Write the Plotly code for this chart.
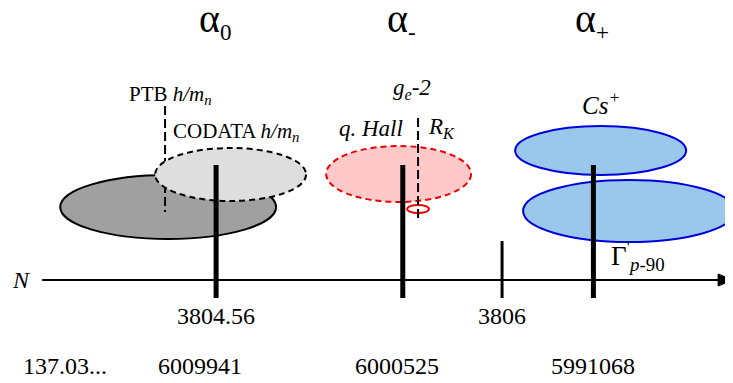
import plotly.graph_objects as go

# ---- data ----
alpha_subs = ["0", "-", "+"]
alpha_N = [3804.56, 3805.50, 3806.46]          # N value of each alpha group
tick_N = [3804.56, 3806.0]
tick_labels = ["3804.56", "3806"]
alpha_inv_labels = ["137.03...", "6009941", "6000525", "5991068"]
alpha_inv_N = [3803.80, 3804.48, 3805.47, 3806.46]
N_range = [3803.512, 3807.163]
H_range = [383, 8]

SERIF = "Liberation Serif"
fig = go.Figure()
fig.add_trace(go.Scatter(x=[N_range[0]], y=[100], mode="markers",
                         marker=dict(opacity=0), hoverinfo="skip", showlegend=False))

shapes = []
def ell(x0, x1, y0, y1, fill, line, dash="solid", w=2):
    shapes.append(dict(type="circle", xref="x", yref="y", x0=x0, x1=x1, y0=y0, y1=y1,
                       fillcolor=fill, line=dict(color=line, width=w, dash=dash), layer="above"))
def vline(x, y0, y1, w, dash="solid", color="black"):
    shapes.append(dict(type="line", xref="x", yref="y", x0=x, x1=x, y0=y0, y1=y1,
                       line=dict(color=color, width=w, dash=dash), layer="above"))

# axis
shapes.append(dict(type="line", xref="x", yref="y", x0=3803.684, x1=3807.09, y0=280, y1=280,
                   line=dict(color="black", width=2), layer="above"))
shapes.append(dict(type="path", xref="x", yref="y",
                   path="M 3807.088 274 L 3807.163 280 L 3807.088 286 Z",
                   fillcolor="black", line=dict(color="black", width=1), layer="above"))

# alpha_0 group
ell(3803.775, 3804.862, 175, 239, "#a0a0a0", "black")
vline(3804.303, 106, 212, 2, dash="9px,4px")
ell(3804.253, 3805.013, 148, 201, "#dedede", "black", dash="6px,4px")
# alpha_- group
ell(3805.114, 3805.844, 146, 202, "#ffc9c9", "#ee0000", dash="6px,4px")
ell(3805.522, 3805.632, 205, 213, "rgba(0,0,0,0)", "#ee0000")
vline(3805.577, 118, 222, 2, dash="9px,4px")
# alpha_+ group
ell(3806.066, 3806.927, 126, 175, "#99c8ec", "#0000dd")
ell(3806.106, 3807.173, 180, 242, "#99c8ec", "#0000dd")

# bars
for n in alpha_N:
    vline(n, 165, 298, 5)
vline(tick_N[1], 241, 298, 3)

fig.update_layout(shapes=shapes)

ann = []
def txt(x, y, s, size, italic=False, xanchor="center", xshift=0, yanchor="middle"):
    if italic:
        s = "<i>" + s + "</i>"
    ann.append(dict(x=x, y=y, xref="x", yref="y", text=s, showarrow=False,
                    xanchor=xanchor, yanchor=yanchor, xshift=xshift,
                    font=dict(family=SERIF, size=size, color="black")))

for n, sub in zip(alpha_N, alpha_subs):
    lab = "α<sub><span style='font-size:23px'>" + sub + "</span></sub>"
    txt(n, 20, lab, 40, xshift=-1)
for n, lab in zip(tick_N, tick_labels):
    txt(n, 316, lab, 24)
for n, lab in zip(alpha_inv_N, alpha_inv_labels):
    txt(n, 366, lab, 24)

txt(N_range[0], 280, "N", 24, italic=True, xanchor="left", xshift=2)
txt(3804.110, 95, "PTB <i>h/m<sub>n</sub></i>", 21, xanchor="left")
txt(3804.335, 132, "CODATA <i>h/m<sub>n</sub></i>", 21, xanchor="left")
txt(3805.577, 89, "g<sub>e</sub>-2", 23, italic=True, xshift=-6)
txt(3805.550, 128, "q. Hall", 23, italic=True, xanchor="right", xshift=-8)
txt(3805.577, 128, "R<sub>K</sub>", 23, italic=True, xanchor="left", xshift=8)
txt(3806.46, 103, "Cs<sup>+</sup>", 25, italic=True, xshift=8)
txt(3806.55, 256, "Γ<sup>'</sup><sub><i>p</i>-90</sub>", 27, xanchor="left", xshift=-2)

fig.update_layout(
    annotations=ann,
    width=725, height=375,
    margin=dict(l=0, r=0, t=0, b=0),
    paper_bgcolor="white", plot_bgcolor="white",
    xaxis=dict(range=N_range, visible=False, fixedrange=True),
    yaxis=dict(range=H_range, visible=False, fixedrange=True),
    showlegend=False,
)
fig.write_html("out.html")
